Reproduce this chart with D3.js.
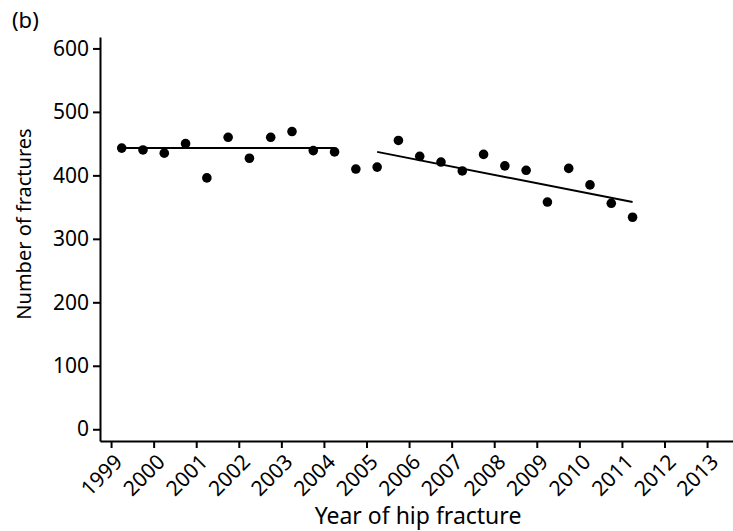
<!DOCTYPE html>
<html><head><meta charset="utf-8">
<script src="https://cdn.jsdelivr.net/npm/d3@7"></script>
<style>
body{margin:0;background:#fff;}
svg{display:block;font-family:"Noto Sans",sans-serif;}
</style></head>
<body><svg id="c" width="733" height="531"></svg>
<script>
const periods = [1999.25,1999.75,2000.25,2000.75,2001.25,2001.75,2002.25,2002.75,2003.25,2003.75,2004.25,2004.75,2005.25,2005.75,2006.25,2006.75,2007.25,2007.75,2008.25,2008.75,2009.25,2009.75,2010.25,2010.75,2011.25];
const fractures = [443,440,435,450,396,460,427,460,469,439,437,410,413,455,430,421,407,433,415,408,358,411,385,356,334];
const fitBefore = [[1999.25,443],[2004.25,443]];
const fitAfter = [[2005.25,437],[2011.25,358]];
const xTicks = [1999,2000,2001,2002,2003,2004,2005,2006,2007,2008,2009,2010,2011,2012,2013];
const yTicks = [0,100,200,300,400,500,600];

const svg = d3.select("#c");
const x = d3.scaleLinear().domain([1998.74,2013.75]).range([100,739]);
const y = d3.scaleLinear().domain([-18.5,618]).range([441,37]);

const fs = 21;
// y axis
const ya = svg.append("g").attr("transform","translate(100,0)")
  .call(d3.axisLeft(y).tickValues(yTicks).tickSize(7).tickSizeOuter(0).tickPadding(4));
ya.select(".domain").attr("stroke-width",2);
ya.selectAll(".tick line").attr("stroke-width",2);
ya.selectAll(".tick text").attr("font-size",fs).attr("fill","#000").attr("font-family","Noto Sans");

// x axis
const xa = svg.append("g").attr("transform","translate(0,441)")
  .call(d3.axisBottom(x).tickValues(xTicks).tickFormat(d3.format("d")).tickSize(7).tickSizeOuter(0));
xa.select(".domain").attr("stroke-width",2);
xa.selectAll(".tick line").attr("stroke-width",2);
xa.selectAll(".tick text").attr("font-size",fs).attr("fill","#000").attr("font-family","Noto Sans")
  .attr("text-anchor","end").attr("dy","0.35em")
  .attr("transform","translate(7,17) rotate(-45)").attr("y",0).attr("x",0);

// fit lines
const line = d3.line().x(d=>x(d[0])).y(d=>y(d[1]));
[fitBefore,fitAfter].forEach(f=>{
  svg.append("path").attr("d",line(f)).attr("stroke","#000").attr("stroke-width",2).attr("fill","none");
});

// points
svg.append("g").selectAll("circle").data(periods).join("circle")
  .attr("cx",d=>x(d)).attr("cy",(d,i)=>y(fractures[i])).attr("r",4.8).attr("fill","#000");

// labels
svg.append("text").attr("x",12).attr("y",28).attr("font-size",22).text("(b)");
svg.append("text").attr("x",418).attr("y",524).attr("text-anchor","middle").attr("font-size",23).text("Year of hip fracture");
svg.append("text").attr("transform","translate(31,224) rotate(-90)").attr("text-anchor","middle").attr("font-size",20).text("Number of fractures");
</script></body></html>
